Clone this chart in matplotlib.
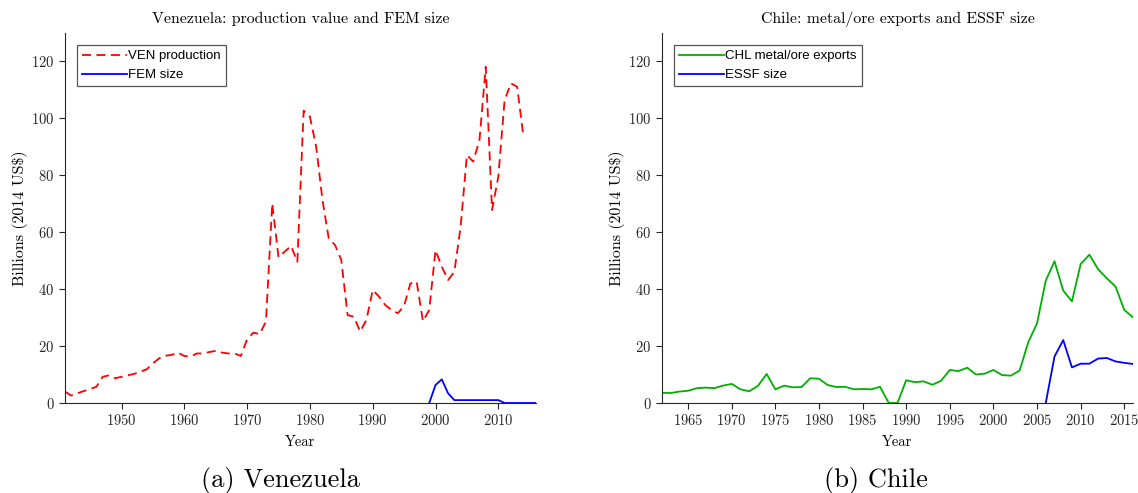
import numpy as np
import matplotlib
matplotlib.use("Agg")
import matplotlib.pyplot as plt

plt.rcParams['font.family'] = 'cmr10'
plt.rcParams['axes.formatter.use_mathtext'] = True
plt.rcParams['mathtext.fontset'] = 'cm'

# --- Venezuela data (billions, 2014 US$)
ven_years = list(range(1941, 2015))
ven_prod = [4.0, 2.6, 3.4, 4.2, 4.9, 5.7, 9.2, 9.7, 8.7, 9.2,
            9.7, 10.2, 11.0, 11.8, 13.9, 15.7, 16.6, 16.9, 17.7, 16.5,
            16.3, 17.4, 17.4, 17.9, 18.3, 17.7, 17.4, 17.4, 16.5, 22.4,
            24.7, 24.2, 28.6, 70.1, 51.2, 53.2, 55.2, 49.6, 102.7, 100.6,
            90.0, 71.3, 57.8, 55.5, 50.2, 30.9, 30.3, 25.1, 29.2, 39.7,
            37.4, 34.4, 32.7, 31.5, 34.1, 42.0, 42.6, 28.7, 32.7, 53.7,
            47.9, 43.2, 46.1, 62.0, 87.1, 84.8, 92.4, 118.1, 67.8, 79.5,
            106.4, 112.3, 111.1, 93.6]
fem_years = list(range(1999, 2017))
fem_size = [0, 6.3, 8.3, 3.4, 1.0, 1.0, 1.0, 1.0, 1.0, 1.0,
            1.0, 1.0, 0, 0, 0, 0, 0, 0]

# --- Chile data
chl_years = list(range(1962, 2017))
chl_exports = [3.6, 3.5, 4.0, 4.3, 5.2, 5.4, 5.2, 6.1, 6.7, 4.8,
               4.1, 6.0, 10.2, 4.8, 6.1, 5.5, 5.6, 8.7, 8.5, 6.3,
               5.6, 5.7, 4.8, 4.9, 4.8, 5.7, 0, 0, 8.0, 7.3,
               7.6, 6.4, 7.8, 11.6, 11.2, 12.4, 10.0, 10.3, 11.6, 9.8,
               9.6, 11.4, 21.4, 28.0, 43.0, 49.8, 39.5, 35.7, 48.8, 52.1,
               47.0, 43.8, 40.9, 32.7, 30.1]
essf_years = list(range(2006, 2017))
essf_size = [0, 16.3, 22.1, 12.5, 13.8, 13.8, 15.6, 15.8, 14.6, 14.1, 13.7]

fig = plt.figure(figsize=(11.38, 4.93), dpi=100)
ax1 = fig.add_axes([0.0571, 0.1826, 0.4139, 0.7505])
ax2 = fig.add_axes([0.5817, 0.1826, 0.4139, 0.7505])

ax1.plot(ven_years, ven_prod, color='#ff0000', lw=1.3, dashes=(5, 3), label='VEN production')
ax1.plot(fem_years, fem_size, color='#0000ff', lw=1.3, label='FEM size')
ax1.set_xlim(1941, 2016)
ax1.set_xticks(range(1950, 2011, 10))
ax1.set_title('Venezuela: production value and FEM size', fontsize=11.4, pad=7)

ax2.plot(chl_years, chl_exports, color='#00b000', lw=1.3, label='CHL metal/ore exports')
ax2.plot(essf_years, essf_size, color='#0000ff', lw=1.3, label='ESSF size')
ax2.set_xlim(1962, 2016)
ax2.set_xticks(range(1965, 2016, 5))
ax2.set_title('Chile: metal/ore exports and ESSF size', fontsize=11.4, pad=7)

for ax in (ax1, ax2):
    ax.set_ylim(0, 130)
    ax.set_yticks(range(0, 121, 20))
    ax.spines['top'].set_visible(False)
    ax.spines['right'].set_visible(False)
    for s in ('left', 'bottom'):
        ax.spines[s].set_color('#262626')
        ax.spines[s].set_linewidth(0.8)
    ax.tick_params(direction='out', length=4, width=0.8, colors='#262626', labelsize=10.5)
    ax.set_xlabel('Year', fontsize=10.5, labelpad=5)
    ax.set_ylabel('Billions (2014 US\\$)', fontsize=11.5, labelpad=2)
    leg = ax.legend(loc='upper left', bbox_to_anchor=(0.025, 0.968), prop={'family': 'Liberation Sans', 'size': 9.5},
                    fancybox=False, framealpha=1, edgecolor='#555555', handlelength=3.4,
                    handletextpad=0.1, borderpad=0.4, labelspacing=0.5, borderaxespad=0)
    leg.get_frame().set_linewidth(0.9)

fig.text(0.246, 0.012, '(a) Venezuela', fontsize=19, ha='center')
fig.text(0.77, 0.012, '(b) Chile', fontsize=19, ha='center')

fig.savefig('out.png', dpi=100)
